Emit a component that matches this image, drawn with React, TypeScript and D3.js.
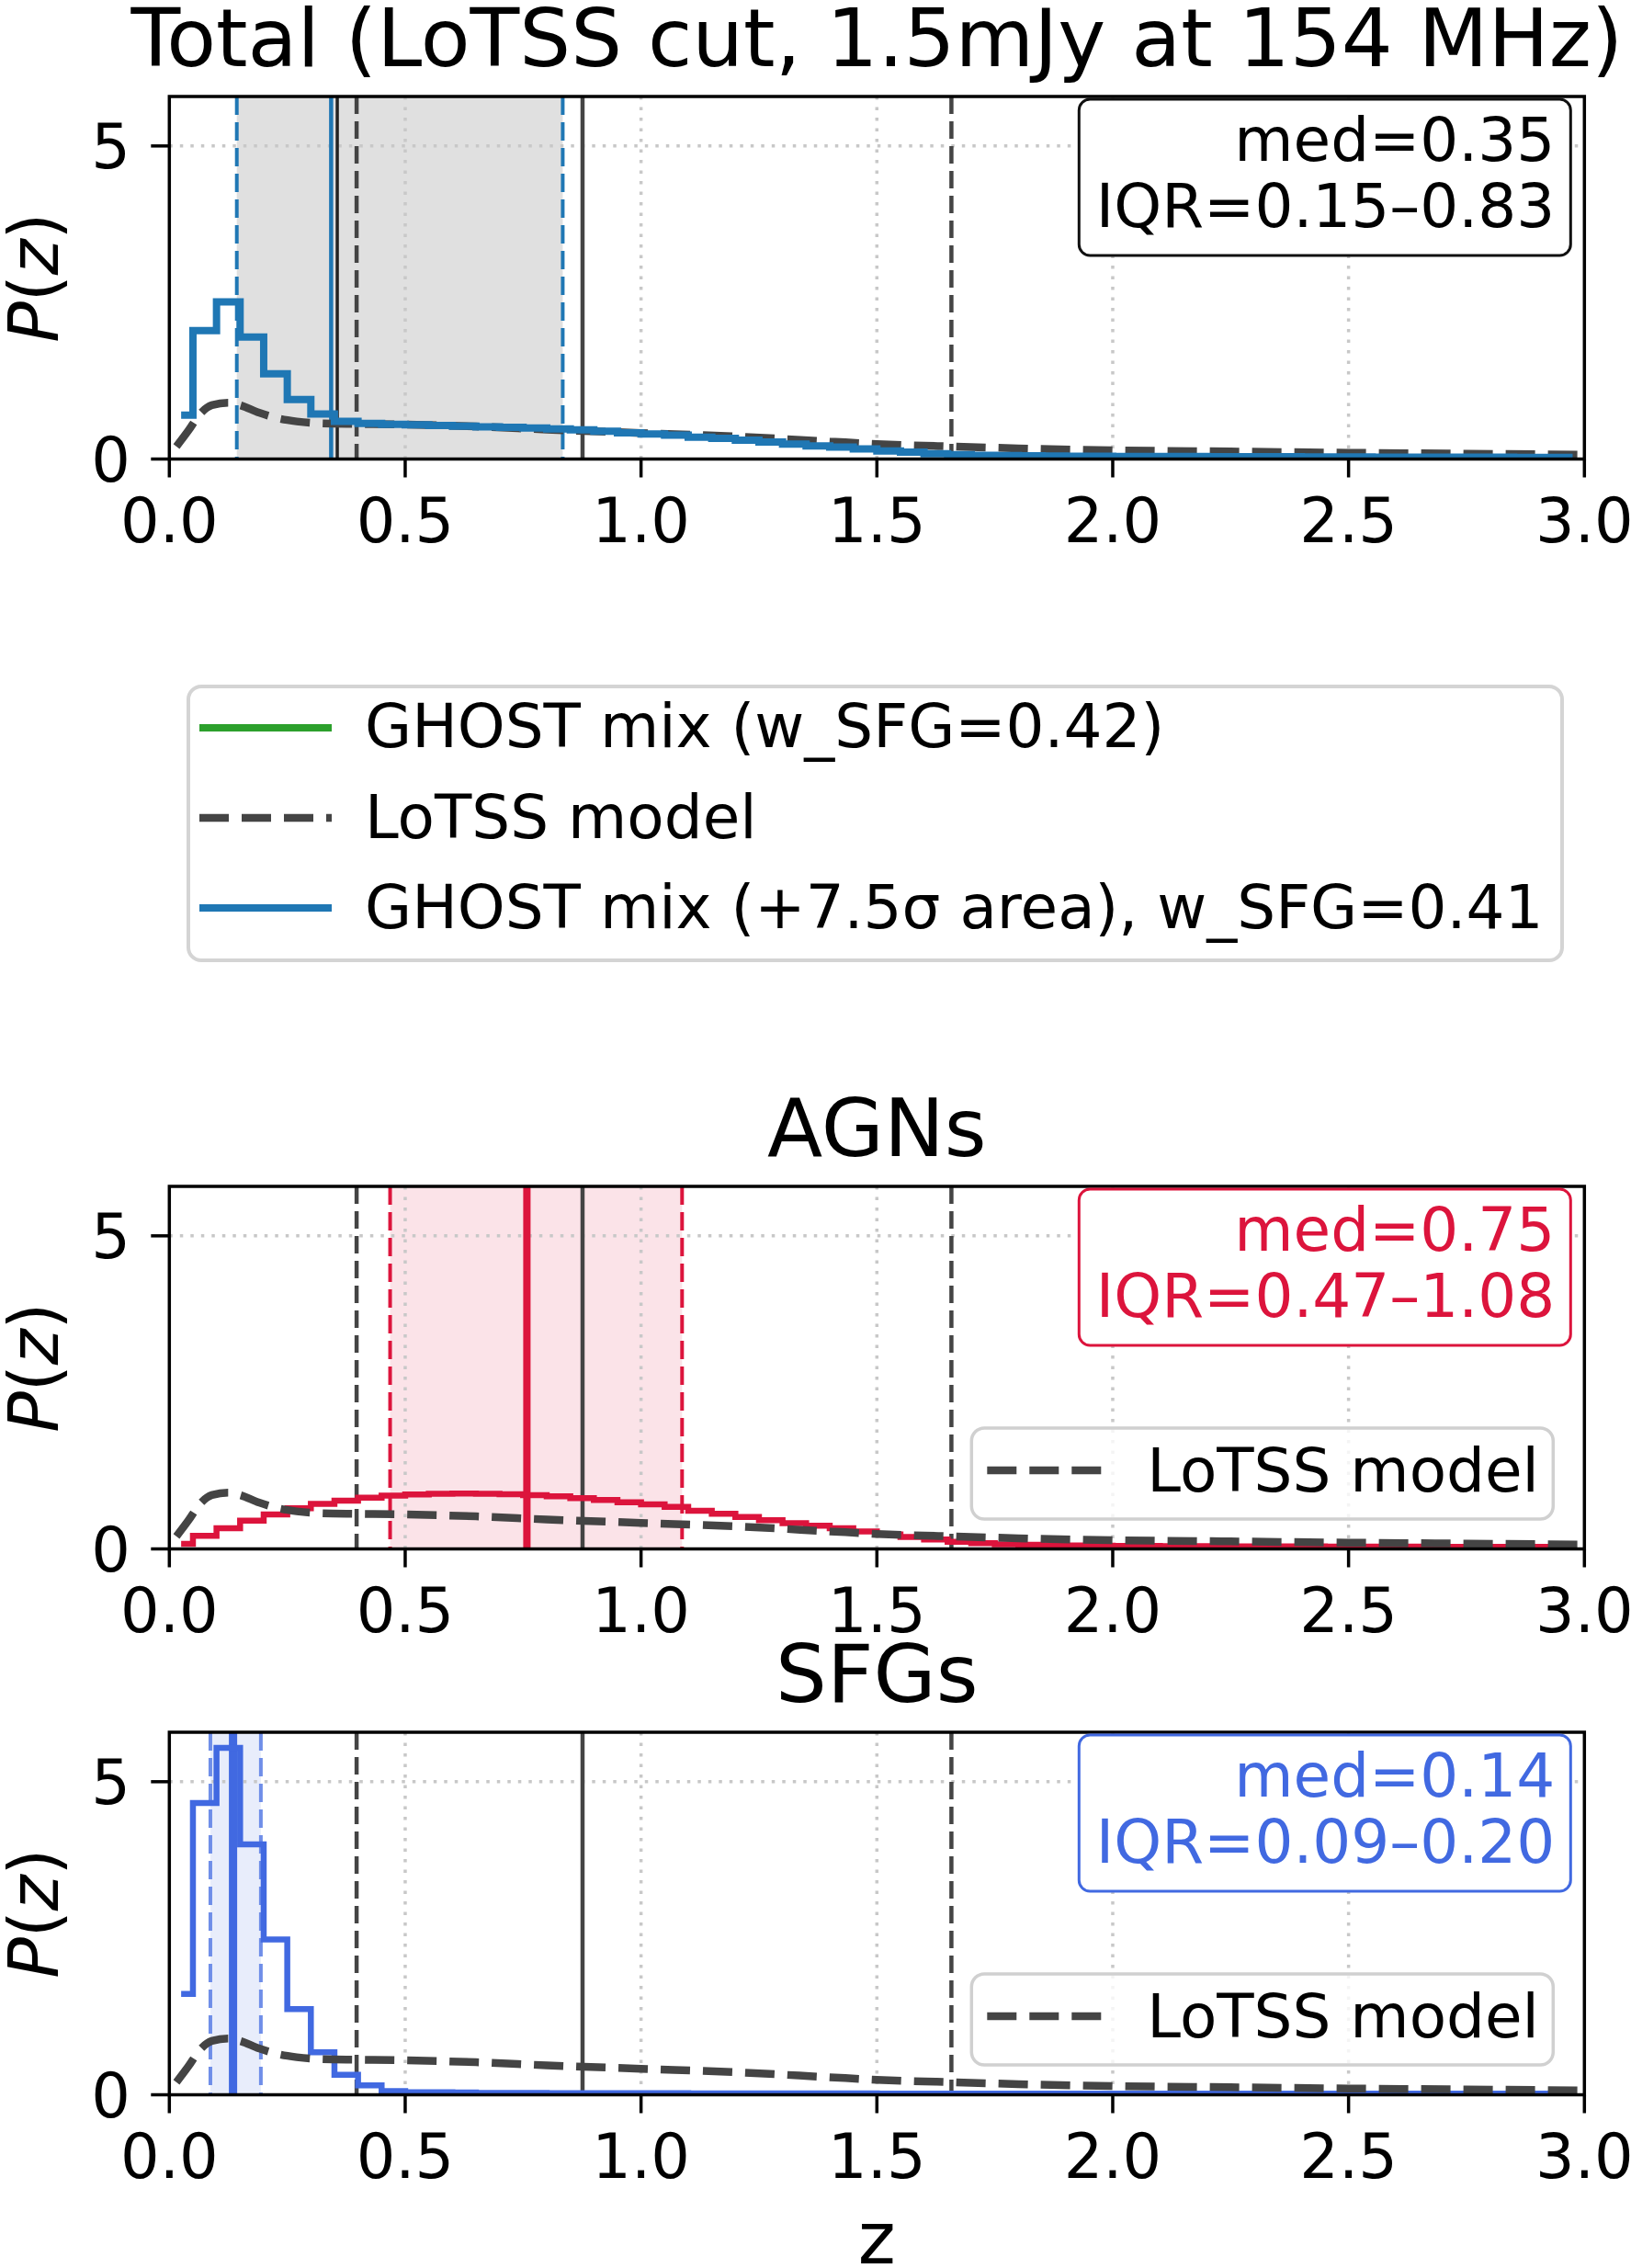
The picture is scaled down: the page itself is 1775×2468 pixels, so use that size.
import React from "react";
import * as d3 from "d3";

// bin centres of the redshift histograms (0.05 wide, 0 -> 3)
const BIN_CENTERS = d3.range(60).map((i) => 0.025 + 0.05 * i);

// P(z) per bin
const totalMix = [
  0.70, 2.05, 2.51, 1.95, 1.36, 0.95, 0.72, 0.60, 0.57, 0.555,
  0.545, 0.535, 0.525, 0.515, 0.505, 0.495, 0.48, 0.465, 0.445, 0.42,
  0.40, 0.38, 0.35, 0.33, 0.30, 0.27, 0.24, 0.21, 0.19, 0.16,
  0.13, 0.11, 0.085, 0.07, 0.06, 0.055, 0.05, 0.047, 0.045, 0.043,
  0.042, 0.041, 0.04, 0.039, 0.038, 0.037, 0.036, 0.035, 0.034, 0.033,
  0.032, 0.031, 0.03, 0.03, 0.029, 0.028, 0.028, 0.027, 0.027, 0.026,
];
const agnPz = [
  0.08, 0.21, 0.33, 0.45, 0.55, 0.65, 0.72, 0.77, 0.82, 0.85,
  0.87, 0.88, 0.885, 0.88, 0.875, 0.86, 0.84, 0.81, 0.78, 0.745,
  0.71, 0.67, 0.61, 0.56, 0.51, 0.46, 0.41, 0.37, 0.33, 0.28,
  0.23, 0.19, 0.15, 0.115, 0.09, 0.075, 0.065, 0.06, 0.055, 0.05,
  0.048, 0.046, 0.045, 0.044, 0.043, 0.042, 0.041, 0.04, 0.039, 0.038,
  0.037, 0.036, 0.035, 0.035, 0.034, 0.033, 0.033, 0.032, 0.032, 0.031,
];
const sfgPz = [
  1.61, 4.66, 5.54, 4.00, 2.48, 1.37, 0.68, 0.32, 0.15, 0.06,
  0.04, 0.04, 0.035, 0.03, 0.03, 0.028, 0.027, 0.026, 0.025, 0.025,
  0.024, 0.024, 0.023, 0.023, 0.022, 0.022, 0.022, 0.021, 0.021, 0.021,
  0.02, 0.02, 0.02, 0.02, 0.02, 0.02, 0.02, 0.02, 0.02, 0.02,
  0.02, 0.02, 0.02, 0.02, 0.02, 0.02, 0.02, 0.02, 0.02, 0.02,
  0.02, 0.02, 0.02, 0.02, 0.02, 0.02, 0.02, 0.02, 0.02, 0.02,
];

// LoTSS model curve
const lotssZ = [0.015, 0.04, 0.065, 0.09, 0.125, 0.15, 0.19, 0.23, 0.27, 0.32, 0.40, 0.50, 0.65, 0.80, 1.00, 1.20, 1.40, 1.50, 1.66, 1.80, 2.00, 2.25, 2.50, 2.75, 3.00];
const lotssP = [0.20, 0.45, 0.72, 0.86, 0.90, 0.86, 0.74, 0.65, 0.60, 0.57, 0.56, 0.55, 0.52, 0.47, 0.415, 0.36, 0.28, 0.24, 0.20, 0.17, 0.14, 0.12, 0.10, 0.085, 0.07];

// LoTSS reference lines (quartiles dashed, median solid)
const lotssQuartiles = [0.397, 1.658];
const lotssMedian = 0.876;

const X_TICKS = [0, 0.5, 1, 1.5, 2, 2.5, 3];
const Y_TICKS = [0, 5];
const Y_MAX = 5.79;

const FONT = "DejaVu Sans";
const AX_LEFT = 184.3;
const AX_RIGHT = 1724.3;
const AX_H = 394.5;

const x = d3.scaleLinear().domain([0, 3]).range([AX_LEFT, AX_RIGHT]);

type PanelProps = {
  id: string;
  top: number;
  title: string;
  values: number[];
  color: string;
  lineWidth: number;
  median: number;
  medianWidth: number;
  medianColor: string;
  iqr: number[];
  shade: string;
  edgeColor: string;
  boxColor: string;
  textColor: string;
  lines: string[];
  legend: boolean;
  stepOnTop: boolean;
  extraLine?: number;
};

const Panel = (p: PanelProps) => {
  const bottom = p.top + AX_H;
  const y = d3.scaleLinear().domain([0, Y_MAX]).range([bottom, p.top]);
  const stepPath = d3
    .line<number>()
    .x((d, i) => x(BIN_CENTERS[i]))
    .y((d) => y(d))
    .curve(d3.curveStep)(p.values);
  const modelPath = d3
    .line<number>()
    .x((d) => x(d))
    .y((d, i) => y(lotssP[i]))
    .curve(d3.curveMonotoneX)(lotssZ);

  const step = (
    <path d={stepPath || ""} fill="none" stroke={p.color} strokeWidth={p.lineWidth} strokeLinejoin="miter" />
  );
  const model = (
    <path d={modelPath || ""} fill="none" stroke="#444444" strokeWidth={8.5} strokeDasharray="32,14" />
  );
  const R = AX_RIGHT;

  return (
    <g>
      <defs>
        <clipPath id={"clip-" + p.id}>
          <rect x={AX_LEFT} y={p.top} width={AX_RIGHT - AX_LEFT} height={AX_H} />
        </clipPath>
      </defs>
      <text x={(AX_LEFT + AX_RIGHT) / 2} y={p.top - 33} textAnchor="middle" fontSize={88} fontFamily={FONT}>
        {p.title}
      </text>
      <g clipPath={`url(#clip-${p.id})`}>
        <rect x={x(p.iqr[0])} y={p.top} width={x(p.iqr[1]) - x(p.iqr[0])} height={AX_H} fill={p.shade} />
        {X_TICKS.slice(1, -1).map((t) => (
          <line key={t} x1={x(t)} x2={x(t)} y1={p.top} y2={bottom} stroke="#c8c8c8" strokeWidth={3.5} strokeDasharray="3.5,8" />
        ))}
        <line x1={AX_LEFT} x2={AX_RIGHT} y1={y(5)} y2={y(5)} stroke="#c8c8c8" strokeWidth={3.5} strokeDasharray="3.5,8" />
        {p.iqr.map((q, i) => (
          <line key={i} x1={x(q)} x2={x(q)} y1={p.top} y2={bottom} stroke={p.edgeColor} strokeWidth={4} strokeDasharray="20,8" />
        ))}
        {lotssQuartiles.map((q, i) => (
          <line key={i} x1={x(q)} x2={x(q)} y1={p.top} y2={bottom} stroke="#444444" strokeWidth={4.5} strokeDasharray="19,8" />
        ))}
        <line x1={x(lotssMedian)} x2={x(lotssMedian)} y1={p.top} y2={bottom} stroke="#444444" strokeWidth={4.5} />
        <line x1={x(p.median)} x2={x(p.median)} y1={p.top} y2={bottom} stroke={p.medianColor} strokeWidth={p.medianWidth} />
        {p.extraLine !== undefined && (
          <line x1={x(p.extraLine)} x2={x(p.extraLine)} y1={p.top} y2={bottom} stroke="#222222" strokeWidth={3.5} />
        )}
        {p.stepOnTop ? model : step}
        {p.stepOnTop ? step : model}
      </g>
      {/* spines */}
      <rect x={AX_LEFT} y={p.top} width={AX_RIGHT - AX_LEFT} height={AX_H} fill="none" stroke="#000" strokeWidth={3.5} />
      {X_TICKS.map((t) => (
        <g key={t}>
          <line x1={x(t)} x2={x(t)} y1={bottom} y2={bottom + 20} stroke="#000" strokeWidth={3.5} />
          <text x={x(t)} y={bottom + 90} textAnchor="middle" fontSize={67} fontFamily={FONT}>
            {t.toFixed(1)}
          </text>
        </g>
      ))}
      {Y_TICKS.map((t) => (
        <g key={t}>
          <line x1={AX_LEFT - 20} x2={AX_LEFT} y1={y(t)} y2={y(t)} stroke="#000" strokeWidth={3.5} />
          <text x={142} y={y(t) + 24} textAnchor="end" fontSize={67} fontFamily={FONT}>
            {t}
          </text>
        </g>
      ))}
      <text transform={`translate(63, ${p.top + AX_H / 2}) rotate(-90)`} textAnchor="middle" fontSize={74} fontFamily={FONT}>
        <tspan fontStyle="italic">P</tspan>(<tspan fontStyle="italic">z</tspan>)
      </text>
      {/* stats box */}
      <rect x={R - 550} y={p.top + 3} width={535} height={170} rx={12} fill="white" stroke={p.boxColor} strokeWidth={3} />
      {p.lines.map((s, i) => (
        <text key={i} x={R - 32} y={p.top + 70 + 72 * i} textAnchor="end" fontSize={66} fontFamily={FONT} fill={p.textColor}>
          {s}
        </text>
      ))}
      {p.legend && (
        <g>
          <rect x={R - 667} y={p.top + 263} width={633} height={99} rx={14} fill="white" fillOpacity={0.8} stroke="#d0d0d0" strokeWidth={3.5} />
          <line x1={R - 650} x2={R - 524} y1={p.top + 309} y2={p.top + 309} stroke="#444444" strokeWidth={8.5} strokeDasharray="32,14" />
          <text x={R - 476} y={p.top + 332} fontSize={66} fontFamily={FONT}>
            LoTSS model
          </text>
        </g>
      )}
    </g>
  );
};

const legendRows = [
  { label: "GHOST mix (w_SFG=0.42)", color: "#2ca02c", dash: "" },
  { label: "LoTSS model", color: "#444444", dash: "32,14" },
  { label: "GHOST mix (+7.5σ area), w_SFG=0.41", color: "#1f77b4", dash: "" },
];

export default function App() {
  return (
    <svg width={1775} height={2468} style={{ position: "absolute", left: 0, top: 0, background: "white" }}>
      <rect width={1775} height={2468} fill="white" />
      <Panel
        id="total"
        top={105}
        title="Total (LoTSS cut, 1.5mJy at 154 MHz)"
        values={totalMix}
        color="#1f77b4"
        lineWidth={8}
        median={0.343}
        medianWidth={4.5}
        medianColor="#1f77b4"
        extraLine={0.356}
        iqr={[0.143, 0.834]}
        shade="#e0e0e0"
        edgeColor="#1f77b4"
        boxColor="#111111"
        textColor="#000000"
        lines={["med=0.35", "IQR=0.15–0.83"]}
        legend={false}
        stepOnTop={true}
      />
      <g>
        <rect x={205} y={747} width={1495} height={298} rx={14} fill="white" stroke="#d4d4d4" strokeWidth={4} />
        {legendRows.map((r, i) => (
          <g key={i}>
            <line x1={217} x2={361} y1={792 + 98 * i} y2={792 + 98 * i} stroke={r.color} strokeWidth={r.dash ? 8.5 : 8} strokeDasharray={r.dash || undefined} />
            <text x={397} y={813 + 98.5 * i} fontSize={66} fontFamily={FONT}>
              {r.label}
            </text>
          </g>
        ))}
      </g>
      <Panel
        id="agn"
        top={1291}
        title="AGNs"
        values={agnPz}
        color="#dc143c"
        lineWidth={6.5}
        median={0.758}
        medianWidth={8}
        medianColor="#dc143c"
        iqr={[0.468, 1.087]}
        shade="#fbe3e8"
        edgeColor="#dc143c"
        boxColor="#dc143c"
        textColor="#dc143c"
        lines={["med=0.75", "IQR=0.47–1.08"]}
        legend={true}
        stepOnTop={false}
      />
      <Panel
        id="sfg"
        top={1885}
        title="SFGs"
        values={sfgPz}
        color="#4169e1"
        lineWidth={6.5}
        median={0.135}
        medianWidth={9}
        medianColor="#4169e1"
        iqr={[0.087, 0.194]}
        shade="#e8edfb"
        edgeColor="#6f8ee8"
        boxColor="#4169e1"
        textColor="#4169e1"
        lines={["med=0.14", "IQR=0.09–0.20"]}
        legend={true}
        stepOnTop={false}
      />
      <text x={(AX_LEFT + AX_RIGHT) / 2} y={2463} textAnchor="middle" fontSize={78} fontFamily={FONT}>
        z
      </text>
    </svg>
  );
}
